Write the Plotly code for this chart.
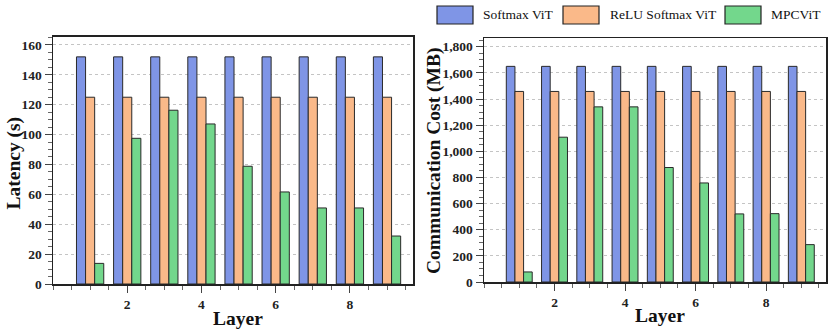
import plotly.graph_objects as go

layers = [1, 2, 3, 4, 5, 6, 7, 8, 9]
series_names = ["Softmax ViT", "ReLU Softmax ViT", "MPCViT"]
colors = ["rgb(127,149,230)", "rgb(250,185,137)", "rgb(115,215,140)"]

latency_softmax = [152, 152, 152, 152, 152, 152, 152, 152, 152]
latency_relu = [125, 125, 125, 125, 125, 125, 125, 125, 125]
latency_mpcvit = [13.8, 97.5, 116.3, 107.1, 78.8, 61.6, 50.9, 50.9, 32.1]

comm_softmax = [1650, 1650, 1650, 1650, 1650, 1650, 1650, 1650, 1650]
comm_relu = [1458, 1458, 1458, 1458, 1458, 1458, 1458, 1458, 1458]
comm_mpcvit = [77, 1108, 1340, 1340, 876, 758, 521, 523, 286]

x_tickvals = [2, 4, 6, 8]

SERIF = "Liberation Serif"
# the page body margin is removed (see post_script), so the figure fills the window
W, H = 830, 331


def px(x):
    return x / W


def py(y):
    return 1 - y / H


fig = go.Figure()

lat = [latency_softmax, latency_relu, latency_mpcvit]
com = [comm_softmax, comm_relu, comm_mpcvit]
for i, name in enumerate(series_names):
    fig.add_trace(go.Bar(x=layers, y=lat[i], name=name,
                         marker=dict(color=colors[i], line=dict(color="#2a2a2a", width=1)),
                         xaxis="x", yaxis="y", showlegend=False))
for i, name in enumerate(series_names):
    fig.add_trace(go.Bar(x=layers, y=com[i], name=name,
                         marker=dict(color=colors[i], line=dict(color="#2a2a2a", width=1)),
                         xaxis="x2", yaxis="y2", showlegend=False))

tickfont = dict(family=SERIF, size=13.5, color="#222", weight="bold")


def xax(domain, anchor):
    return dict(domain=domain, anchor=anchor, range=[0, 9.7], tickmode="array", tickvals=x_tickvals,
                ticks="outside", ticklen=7, tickwidth=1, tickcolor="#444", tickfont=tickfont,
                showline=True, linecolor="#222", linewidth=1.5, mirror=True, showgrid=False, zeroline=False,
                minor=dict(dtick=0.5, tick0=0, ticks="outside", ticklen=4, tickcolor="#666", showgrid=False),
                automargin=False, fixedrange=True)


def yax(domain, anchor, rng, dtick, mdtick, fmt):
    return dict(domain=domain, anchor=anchor, range=rng, dtick=dtick, tick0=0, tickformat=fmt,
                ticks="outside", ticklen=7, tickwidth=1, tickcolor="#444", tickfont=tickfont,
                showline=True, linecolor="#222", linewidth=1.5, mirror=True,
                showgrid=True, gridcolor="#c4c4c4", griddash="dot", gridwidth=1, zeroline=False,
                minor=dict(dtick=mdtick, tick0=0, ticks="outside", ticklen=4, tickcolor="#666", showgrid=False),
                automargin=False, fixedrange=True)


fig.update_layout(
    width=W, height=H,
    margin=dict(l=0, r=0, t=0, b=0),
    paper_bgcolor="white", plot_bgcolor="white",
    barmode="group", bargap=0.265, bargroupgap=0,
    hovermode=False,
    xaxis=xax([px(53), px(413)], "y"),
    yaxis=yax([py(284), py(36.7)], "x", [0, 165.5], 20, 5, "d"),
    xaxis2=xax([px(484), px(826)], "y2"),
    yaxis2=yax([py(282), py(38)], "x2", [0, 1867], 200, 50, ",d"),
)

titlefont = dict(family=SERIF, size=19.5, color="#111", weight="bold")
annotations = [
    dict(text="Latency (s)", x=px(13), y=py(163.5), textangle=-90, font=titlefont),
    dict(text="Communication Cost (MB)", x=px(434), y=py(161), textangle=-90, font=titlefont),
    dict(text="Layer", x=px(238), y=py(318), font=titlefont),
    dict(text="Layer", x=px(660), y=py(315), font=titlefont),
]
for a in annotations:
    a.update(xref="paper", yref="paper", showarrow=False, xanchor="center", yanchor="middle")

# legend drawn as boxes + labels
legend_box_x = [437, 563, 725]
legend_text_x = [481, 608, 769]
shapes = []
for i, name in enumerate(series_names):
    shapes.append(dict(type="rect", xref="paper", yref="paper",
                       x0=px(legend_box_x[i]), x1=px(legend_box_x[i] + 36),
                       y0=py(24), y1=py(6),
                       fillcolor=colors[i], line=dict(color="#222", width=1.2)))
    annotations.append(dict(text=name, x=px(legend_text_x[i]), y=py(15), xref="paper", yref="paper",
                            showarrow=False, xanchor="left", yanchor="middle",
                            font=dict(family=SERIF, size=13.5, color="#111")))

fig.update_layout(annotations=annotations, shapes=shapes)

fig.write_html("out.html", config={"displayModeBar": False, "staticPlot": True},
               post_script="document.body.style.margin='0px';")
